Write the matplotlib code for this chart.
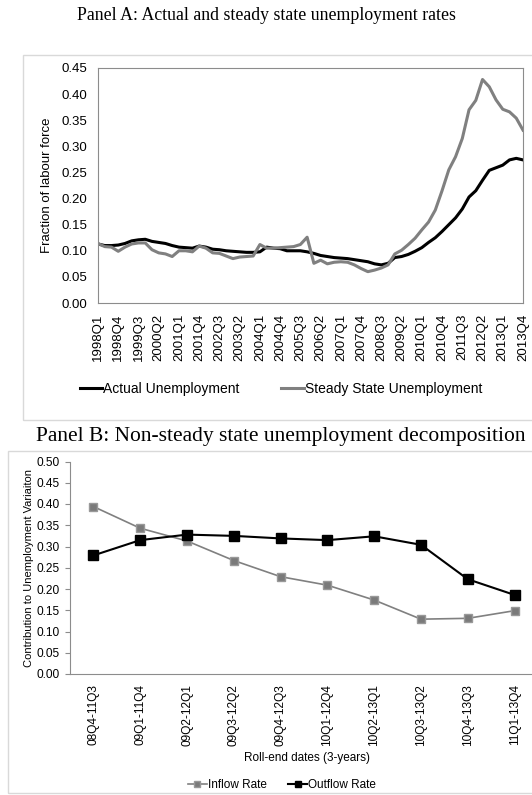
import numpy as np
import matplotlib.pyplot as plt
from matplotlib.patches import Rectangle

# figure size in pixels
W = 532
H = 795

# panel A: quarterly series 1998Q1 - 2013Q4
years = range(1998, 2014)
quarters = [str(y) + "Q" + str(q) for y in years for q in range(1, 5)]

actual = [0.113, 0.110, 0.110, 0.111, 0.114, 0.119, 0.121, 0.122, 0.118, 0.116,
          0.114, 0.110, 0.107, 0.106, 0.105, 0.109, 0.107, 0.103, 0.102, 0.100,
          0.099, 0.098, 0.097, 0.097, 0.098, 0.107, 0.105, 0.104, 0.100, 0.100,
          0.100, 0.098, 0.095, 0.091, 0.089, 0.087, 0.086, 0.085, 0.083, 0.081,
          0.079, 0.075, 0.073, 0.076, 0.087, 0.089, 0.093, 0.099, 0.106, 0.116,
          0.125, 0.137, 0.150, 0.163, 0.180, 0.203, 0.215, 0.235, 0.254, 0.259,
          0.264, 0.274, 0.277, 0.274]

steady = [0.114, 0.108, 0.107, 0.099, 0.107, 0.113, 0.115, 0.115, 0.102, 0.096,
          0.094, 0.089, 0.100, 0.100, 0.098, 0.109, 0.105, 0.096, 0.095, 0.090,
          0.085, 0.088, 0.089, 0.090, 0.112, 0.105, 0.105, 0.106, 0.107, 0.108,
          0.112, 0.126, 0.076, 0.082, 0.075, 0.078, 0.079, 0.078, 0.073, 0.066,
          0.060, 0.063, 0.067, 0.073, 0.094, 0.101, 0.112, 0.124, 0.140, 0.155,
          0.178, 0.215, 0.255, 0.280, 0.315, 0.370, 0.388, 0.428, 0.414, 0.389,
          0.371, 0.366, 0.354, 0.331]

# panel B: rolling windows
windows = ["08Q4-11Q3", "09Q1-11Q4", "09Q2-12Q1", "09Q3-12Q2", "09Q4-12Q3",
           "10Q1-12Q4", "10Q2-13Q1", "10Q3-13Q2", "10Q4-13Q3", "11Q1-13Q4"]
inflow = [0.394, 0.343, 0.313, 0.267, 0.229, 0.209, 0.174, 0.129, 0.131, 0.149]
outflow = [0.279, 0.315, 0.328, 0.325, 0.319, 0.315, 0.324, 0.304, 0.223, 0.186]

sans = "Liberation Sans"
serif = "Liberation Serif"
grey = "#808080"
axis_grey = "#8c8c8c"


def box(px_left, px_top, px_right, px_bottom):
    # convert pixel box to figure fractions
    return [px_left / W, 1 - px_bottom / H, (px_right - px_left) / W, (px_bottom - px_top) / H]


fig = plt.figure(figsize=(W / 100, H / 100), dpi=100)

# outer frames of both chart objects
fig.patches.append(Rectangle((23 / W, 1 - 420 / H), 1.0, 365 / H, transform=fig.transFigure,
                             fill=False, edgecolor="#d9d9d9", linewidth=1))
fig.patches.append(Rectangle((8 / W, 1 - 793 / H), 1.0, 342 / H, transform=fig.transFigure,
                             fill=False, edgecolor="#d9d9d9", linewidth=1))

# ---------------- panel A ----------------
fig.text(266 / W, 1 - 16 / H, "Panel A: Actual and steady state unemployment rates",
         family=serif, fontsize=12.8, ha="center", va="center")

ax1 = fig.add_axes(box(98, 68, 523, 303))
x = np.arange(len(quarters))
ax1.plot(x, actual, color="black", linewidth=2.2, label="Actual Unemployment")
ax1.plot(x, steady, color=grey, linewidth=2.2, label="Steady State Unemployment")
ax1.set_xlim(0, len(quarters) - 1)
ax1.set_ylim(0, 0.45)
ax1.set_yticks(np.arange(0, 0.451, 0.05))
ax1.set_yticklabels(["%.2f" % v for v in np.arange(0, 0.451, 0.05)], family=sans, fontsize=9.5)
ax1.set_xticks(x[::3])
ax1.set_xticklabels(quarters[::3], rotation=90, family=sans, fontsize=9.5)
ax1.tick_params(length=0, pad=8)
for s in ax1.spines.values():
    s.set_color(axis_grey)
    s.set_linewidth(0.8)
ax1.set_ylabel("Fraction of labour force", family=sans, fontsize=9.5, labelpad=6)

fig.legend(*ax1.get_legend_handles_labels(), loc="center", bbox_to_anchor=(281 / W, 1 - 389 / H),
           ncol=2, frameon=False, prop={"family": sans, "size": 10},
           handlelength=1.6, handletextpad=0.1, columnspacing=3.0)

# ---------------- panel B ----------------
fig.text(281 / W, 1 - 437 / H, "Panel B: Non-steady state unemployment decomposition",
         family=serif, fontsize=15.5, ha="center", va="center")

ax2 = fig.add_axes(box(70, 461.5, 538, 674))
xb = np.arange(len(windows))
ax2.plot(xb, inflow, color=grey, linewidth=1.2, marker="s", markersize=6,
         markerfacecolor="#7a7a7a", markeredgecolor="#999999", label="Inflow Rate")
ax2.plot(xb, outflow, color="black", linewidth=1.5, marker="s", markersize=6.5,
         markerfacecolor="black", markeredgecolor="black", label="Outflow Rate")
ax2.set_xlim(-0.5, len(windows) - 0.5)
ax2.set_ylim(0, 0.5)
ax2.set_yticks(np.arange(0, 0.501, 0.05))
ax2.set_yticklabels(["%.2f" % v for v in np.arange(0, 0.501, 0.05)], family=sans, fontsize=8.6)
ax2.set_xticks(xb)
ax2.set_xticklabels(windows, rotation=90, family=sans, fontsize=8.6)
ax2.tick_params(axis="x", length=0, pad=7)
ax2.tick_params(axis="y", length=3.5, color=axis_grey, width=0.8, pad=4)
ax2.spines["top"].set_visible(False)
ax2.spines["right"].set_visible(False)
ax2.spines["left"].set_color(axis_grey)
ax2.spines["bottom"].set_color(axis_grey)
ax2.set_ylabel("Contribution to Unemployment Variaiton", family=sans, fontsize=8, labelpad=2)
fig.text(307 / W, 1 - 758 / H, "Roll-end dates (3-years)", family=sans, fontsize=8.5,
         ha="center", va="center")

fig.legend(*ax2.get_legend_handles_labels(), loc="center", bbox_to_anchor=(282 / W, 1 - 785 / H),
           ncol=2, frameon=False, prop={"family": sans, "size": 8.5},
           handlelength=1.6, handletextpad=0.1, columnspacing=1.8, markerscale=0.7)

plt.savefig("out.png", dpi=100)
